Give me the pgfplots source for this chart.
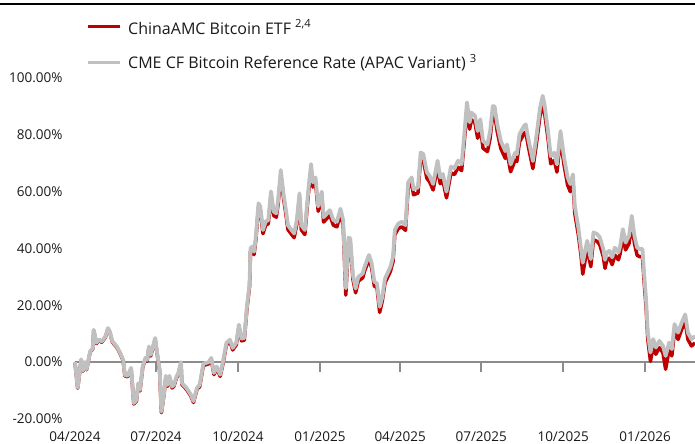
\documentclass[border=0pt]{standalone}
\usepackage{fontspec}
\setmainfont{Open Sans}
\usepackage{pgfplots}
\pgfplotsset{compat=1.18}
\definecolor{etfred}{HTML}{C00000}
\definecolor{idxgray}{HTML}{C0C0C0}
\definecolor{axgray}{HTML}{8C8C8C}

% day 0 = 04/2024, cumulative return in %
\pgfplotstableread{
d ret
0 -0.2
3 -9.2
7 0.8
9 -3.2
11 -0.2
13 -2.7
17 3.55
20 4.7
21 11.1
24 6.5
27 7.7
30 7.0
34 8.7
37 11.7
39 10.6
42 7.0
47 5.2
51 2.8
54 0.55
56 -4.85
59 -5.15
63 -2.4
66 -14.75
69 -13.7
71 -7.8
73 -10.1
76 -1.9
79 1.1
81 0.35
83 5.05
85 2.15
90 8.0
92 3.3
95 -3.1
97 -17.8
100 -11.25
102 -5.3
104 -8.5
106 -5.3
109 -9.1
111 -8.5
114 -5.5
116 -4.3
119 -0.5
120 -7.9
125 -9.5
130 -11.9
133 -14.2
137 -9.5
140 -8.6
144 -1.2
150 -0.6
153 0.85
156 -4.4
159 -2.15
163 -5.0
166 -0.7
170 6.1
174 7.2
177 4.3
181 6.1
184 12.4
187 7.5
190 7.7
193 18.7
196 26.8
197 39.0
199 39.6
201 37.8
203 43.0
206 54.6
208 53.5
211 45.2
214 48.2
217 48.7
220 58.7
223 51.6
226 51.0
228 55.5
231 66.0
234 57.9
237 51.5
239 46.7
243 45.0
246 43.8
249 48.5
252 57.8
254 46.6
258 44.9
262 59.3
265 68.0
267 61.6
270 63.3
273 53.1
277 58.3
279 49.3
282 50.3
286 51.8
290 48.2
294 47.6
298 52.2
301 48.2
304 23.6
307 42.2
309 42.0
312 29.1
315 24.4
318 28.5
323 29.7
325 32.0
330 36.1
333 33.2
336 26.8
339 26.2
342 17.5
345 21.6
348 27.9
354 31.9
357 35.4
359 44.8
363 47.1
367 47.6
371 46.4
374 61.3
378 63.0
380 58.9
385 59.5
388 71.6
391 71.0
395 64.7
398 63.5
402 60.6
407 68.7
410 62.8
413 64.0
417 57.8
422 66.6
426 66.0
430 68.6
434 67.4
437 77.6
440 88.9
443 82.0
445 85.3
449 84.2
452 78.8
455 83.0
458 75.3
463 74.1
466 78.8
469 87.5
471 87.4
474 81.1
478 75.2
483 71.7
485 74.0
489 67.0
494 71.1
496 70.6
499 77.5
504 80.4
506 81.0
509 75.7
514 68.1
518 76.9
522 86.7
525 90.0
527 88.0
531 78.6
534 69.8
538 71.0
541 66.9
545 78.5
549 69.3
553 62.3
556 60.0
559 63.4
561 52.4
565 44.9
568 37.6
570 31.0
575 40.2
579 33.6
582 43.1
586 42.5
589 41.4
593 37.2
595 33.0
597 36.0
600 36.6
603 34.3
606 37.7
610 36.0
612 38.3
615 44.1
618 39.5
622 41.8
625 48.7
628 41.8
631 37.6
634 37.1
637 37.1
639 27.8
641 19.7
643 8.0
646 0.3
649 5.7
652 2.8
656 5.1
660 3.3
663 -2.5
667 4.5
670 2.2
673 11.0
677 8.0
681 11.5
685 14.3
688 8.0
692 5.7
696 6.8
}\etf

\pgfplotstableread{
d ret
0 0
3 -9
7 1
9 -3
11 0
13 -2.5
17 3.8
20 5
21 11.4
24 6.8
27 8
30 7.3
34 9
37 12
39 10.9
42 7.3
47 5.5
51 3.1
54 0.9
56 -4.5
59 -4.8
63 -2
66 -14.4
69 -13.3
71 -7.4
73 -9.7
76 -1.5
79 1.5
81 0.8
83 5.5
85 2.6
90 8.5
92 3.8
95 -2.6
97 -17.4
100 -10.8
102 -4.8
104 -8
106 -4.8
109 -8.6
111 -8
114 -5
116 -3.8
119 0
120 -7.4
125 -9
130 -11.4
133 -13.7
137 -9
140 -8
144 -0.6
150 0
153 1.5
156 -3.8
159 -1.5
163 -4.4
166 0
170 6.8
174 7.9
177 5
181 6.8
184 13.2
187 8.3
190 8.5
193 19.6
196 27.8
197 40.1
199 40.7
201 38.9
203 44.2
206 55.9
208 54.8
211 46.5
214 49.5
217 50
220 60.1
223 53
226 52.4
228 57
231 67.6
234 59.4
237 53
239 48.2
243 46.5
246 45.3
249 50
252 59.4
254 48.2
258 46.5
262 60.9
265 69.7
267 63.3
270 65
273 54.8
277 60
279 51
282 52
286 53.5
290 50
294 49.4
298 54
301 50
304 26
307 43.8
309 43.6
312 30.6
315 25.9
318 30
323 31.2
325 33.5
330 37.7
333 34.8
336 28.3
339 27.7
342 19.5
345 23
348 29.4
354 33.5
357 37
359 46.5
363 48.8
367 49.4
371 48.2
374 63.3
378 65
380 60.9
385 61.5
388 73.8
391 73.2
395 66.8
398 65.6
402 62.7
407 70.9
410 65
413 66.2
417 60
422 68.8
426 68.2
430 70.9
434 69.7
437 80
440 91.4
443 84.4
445 87.8
449 86.7
452 81.3
455 85.5
458 77.8
463 76.6
466 81.3
469 90.1
471 90
474 83.7
478 77.8
483 74.3
485 76.6
489 69.6
494 73.7
496 73.2
499 80.2
504 83.1
506 83.7
509 78.4
514 70.8
518 79.6
522 89.5
525 93.7
527 90.8
531 81.3
534 72.5
538 73.7
541 69.6
545 81.3
549 72
553 65
556 62.7
559 66.1
561 55
565 47.4
568 40
570 35
575 42.7
579 36.3
582 45.7
586 45.1
589 44
593 39.8
595 36
597 38.6
600 39.2
603 36.9
606 40.3
610 38.6
612 40.9
615 46.8
618 42.1
622 44.5
625 51.5
628 44.5
631 40.3
634 39.8
637 39.8
639 30.4
641 22.2
643 10.4
646 3.4
649 8.1
652 5.2
656 7.5
660 5.7
663 2.2
667 6.9
670 4.6
673 13.4
677 10.4
681 13.9
685 16.8
688 10.4
692 8.1
696 9.2
}\cme

\begin{document}
\begin{tikzpicture}[x=1bp,y=1bp]
\useasboundingbox (0,0) rectangle (695,444);
\draw[line width=1.5bp] (0,440) -- (695,440);

\begin{axis}[
    at={(75bp,25bp)}, anchor=south west,
    scale only axis,
    width=620bp, height=341bp,
    xmin=0, xmax=696, ymin=-20, ymax=100,
    axis line style={draw=none},
    major tick length=0pt,
    xtick={0,91,183,275,365,456,548,640},
    xticklabels={04/2024,07/2024,10/2024,01/2025,04/2025,07/2025,10/2025,01/2026},
    ytick={-20,0,20,40,60,80,100},
    yticklabel={\pgfmathprintnumber[fixed,fixed zerofill,precision=2]{\tick}\%},
    /pgf/number format/assume math mode=true,
    tick label style={font=\fontsize{13.5bp}{16bp}\selectfont, text=black!90},
    yticklabel style={xshift=-9bp},
    xticklabel style={yshift=-9bp},
    clip=false,
  ]
  \draw[axgray, line width=1.5bp] (axis cs:0,0) -- (axis cs:696,0);
  \pgfplotsinvokeforeach{91,183,275,365,456,548,640}{
    \draw[axgray, line width=1.5bp] (axis cs:#1,0) -- ([yshift=-10bp]axis cs:#1,0);
  }
  \addplot[etfred, line width=3.5bp, line join=round] table[x=d, y=ret] {\etf};
  \addplot[idxgray, line width=3.8bp, line join=round] table[x=d, y=ret] {\cme};
\end{axis}

\begin{scope}[every node/.style={font=\fontsize{16bp}{18bp}\selectfont, text=black!90, anchor=west, inner sep=0pt}]
  \draw[etfred, line width=3bp] (88,417) -- (120,417);
  \node at (128,417) {ChinaAMC Bitcoin ETF \textsuperscript{2,4}};
  \draw[idxgray, line width=3bp] (88,381) -- (120,381);
  \node at (128,381) {CME CF Bitcoin Reference Rate (APAC Variant) \textsuperscript{3}};
\end{scope}
\end{tikzpicture}
\end{document}
